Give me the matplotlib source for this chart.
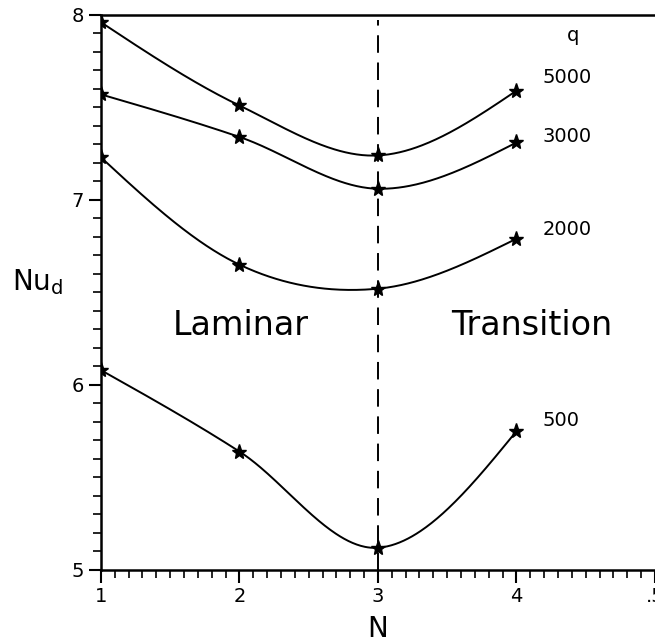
import numpy as np
import matplotlib.pyplot as plt
from matplotlib.ticker import MultipleLocator

# Nusselt number vs N for several heat fluxes q
N = [1, 2, 3, 4]
nu_5000 = [7.96, 7.51, 7.24, 7.59]
nu_3000 = [7.57, 7.34, 7.06, 7.31]
nu_2000 = [7.23, 6.65, 6.52, 6.79]
nu_500 = [6.08, 5.64, 5.12, 5.75]
q_labels = ['5000', '3000', '2000', '500']
label_y = [7.66, 7.34, 6.84, 5.81]


def smooth_curve(x, y, xs):
    # Catmull-Rom style Hermite curve with free (natural) end slopes
    x = np.asarray(x, float)
    y = np.asarray(y, float)
    h = np.diff(x)
    n = len(x)
    m = np.zeros(n)
    m[1:-1] = (y[2:] - y[:-2]) / (x[2:] - x[:-2])
    d = np.diff(y) / h
    m[0] = (3 * d[0] - m[1]) / 2
    m[-1] = (3 * d[-1] - m[-2]) / 2
    out = np.empty_like(xs)
    for k, xv in enumerate(xs):
        i = min(max(np.searchsorted(x, xv) - 1, 0), n - 2)
        t = (xv - x[i]) / h[i]
        h00 = 2 * t ** 3 - 3 * t ** 2 + 1
        h10 = t ** 3 - 2 * t ** 2 + t
        h01 = -2 * t ** 3 + 3 * t ** 2
        h11 = t ** 3 - t ** 2
        out[k] = h00 * y[i] + h10 * h[i] * m[i] + h01 * y[i + 1] + h11 * h[i] * m[i + 1]
    return out


fig = plt.figure(figsize=(6.55, 6.44), dpi=100)
ax = fig.add_axes([0.154, 0.115, 0.846, 0.862])

xs = np.linspace(1, 4, 300)
for series, lab, ly in zip([nu_5000, nu_3000, nu_2000, nu_500], q_labels, label_y):
    ax.plot(xs, smooth_curve(N, series, xs), color='black', lw=1.4)
    ax.plot(N, series, ls='none', marker='*', ms=11, color='black')
    ax.text(4.19, ly, lab, fontsize=14, ha='left', va='center')

ax.text(4.41, 7.89, 'q', fontsize=14, ha='center', va='center')
ax.axvline(3, ymin=0.0, ymax=0.99, color='black', lw=1.4, ls=(0, (9, 5)))

ax.text(2.01, 6.32, 'Laminar', fontsize=24, ha='center', va='center')
ax.text(4.11, 6.32, 'Transition', fontsize=24, ha='center', va='center')

ax.set_xlim(1, 5)
ax.set_ylim(5, 8)
ax.xaxis.set_minor_locator(MultipleLocator(0.1))
ax.yaxis.set_major_locator(MultipleLocator(1))
ax.yaxis.set_minor_locator(MultipleLocator(0.1))
ax.set_xticks([1, 2, 3, 4, 5])
ax.set_xticklabels(['1', '2', '3', '4', '.5'])
ax.tick_params(which='major', direction='out', length=9, width=1.5, labelsize=14)
ax.tick_params(which='minor', direction='out', length=6, width=1.2)

for side in ['left', 'bottom', 'top']:
    ax.spines[side].set_linewidth(1.8)
ax.spines['right'].set_visible(False)

ax.set_xlabel('N', fontsize=20, labelpad=6)
fig.text(12 / 655, 0.55, r'Nu$_\mathrm{d}$', fontsize=20, ha='left', va='baseline')

fig.savefig('out.png', dpi=100)
